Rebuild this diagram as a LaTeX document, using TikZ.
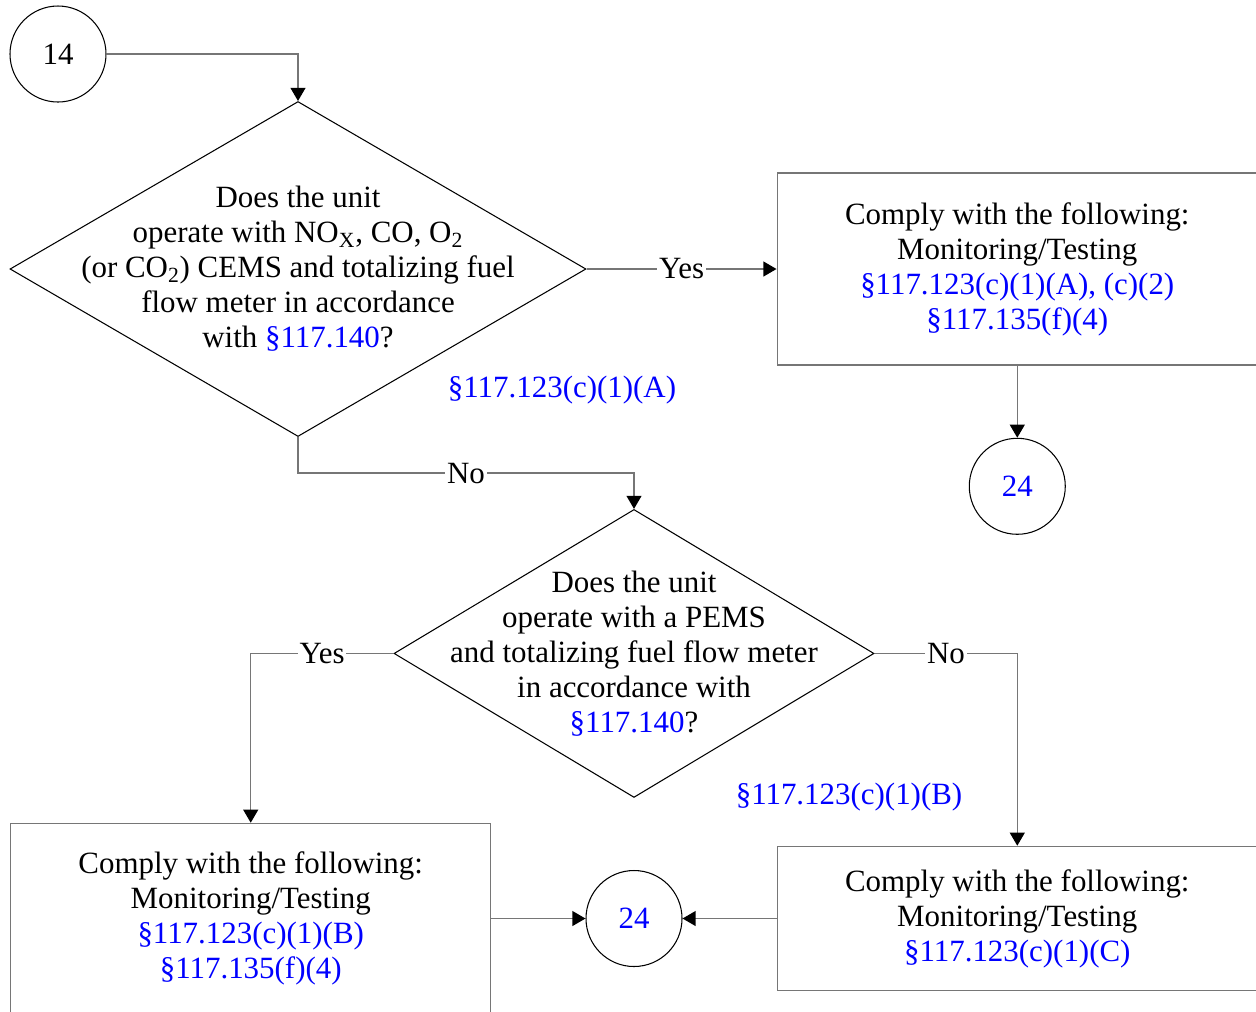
\documentclass[tikz,border=0pt]{standalone}
\usepackage{fontspec}
\setmainfont{Liberation Serif}
\usepackage{xcolor}
\usepackage{tikz}
\usetikzlibrary{positioning}
\usetikzlibrary{shapes.geometric}
\usetikzlibrary{arrows.meta}

\definecolor{secblue}{RGB}{0,0,255}
\definecolor{linegray}{RGB}{118,118,118}

\begin{document}
\begin{tikzpicture}[
    font=\fontsize{17.6}{19.9}\selectfont,
    decision/.style={diamond, draw=black, line width=0.6pt, inner sep=0pt},
    process/.style={rectangle, draw=linegray, line width=0.85pt, minimum width=9.6cm, align=center},
    pagelink/.style={circle, draw=black, line width=0.6pt, minimum size=1.92cm, inner sep=0pt},
    flow/.style={draw=linegray, line width=0.85pt, -{Triangle[length=7.5pt, width=8.5pt, black]}},
    answer/.style={fill=white, inner sep=1pt}
  ]
    \useasboundingbox (0,0) rectangle (25.12,-20.22);

    % Define nodes
    \node[pagelink] (c14) at (1.16,-1.08) {14};
    \node[decision, minimum width=11.52cm, minimum height=6.7cm] (q1) at (5.96,-5.38) {};
    \node[align=center] (q1text) at (q1.center) {Does the unit\\
      operate with NO\textsubscript{X}, CO, O\textsubscript{2}\\
      (or CO\textsubscript{2}) CEMS and totalizing fuel\\
      flow meter in accordance\\
      with \textcolor{secblue}{§117.140}?};
    \node[process, minimum height=3.84cm, right=3.8cm of q1] (comply1) {Comply with the following:\\
      Monitoring/Testing\\
      \textcolor{secblue}{§117.123(c)(1)(A), (c)(2)}\\
      \textcolor{secblue}{§117.135(f)(4)}};
    \node[pagelink, text=secblue, below=1.44cm of comply1] (c24a) {24};
    \node[text=secblue] (ref1) at (11.24,-7.8) {§117.123(c)(1)(A)};

    \node[process, minimum height=2.88cm, below=9.6cm of comply1] (comply3) {Comply with the following:\\
      Monitoring/Testing\\
      \textcolor{secblue}{§117.123(c)(1)(C)}};
    \node[pagelink, text=secblue, left=1.88cm of comply3] (c24b) {24};
    \node[process, minimum height=3.8cm, left=1.88cm of c24b] (comply2) {Comply with the following:\\
      Monitoring/Testing\\
      \textcolor{secblue}{§117.123(c)(1)(B)}\\
      \textcolor{secblue}{§117.135(f)(4)}};
    \node[decision, minimum width=9.6cm, minimum height=5.76cm, above=1.44cm of c24b] (q2) {};
    \node[align=center] (q2text) at (q2.center) {Does the unit\\
      operate with a PEMS\\
      and totalizing fuel flow meter\\
      in accordance with\\
      \textcolor{secblue}{§117.140}?};
    \node[text=secblue] (ref2) at (16.98,-15.94) {§117.123(c)(1)(B)};

    % Connect the nodes
    \draw[flow] (c14.east) -| (q1.north);
    \draw[flow] (q1.east) -- node[answer] {Yes} (comply1.west);
    \draw[flow] (comply1.south) -- (c24a.north);
    \draw[flow] (q1.south) -- ++(0,-0.72) -| node[answer, pos=0.25] {No} (q2.north);
    \draw[flow] (q2.west) -| node[answer, pos=0.25] {Yes} (comply2.north);
    \draw[flow] (q2.east) -| node[answer, pos=0.25] {No} (comply3.north);
    \draw[flow] (comply2.east) -- (c24b.west);
    \draw[flow] (comply3.west) -- (c24b.east);

  \end{tikzpicture}
\end{document}
